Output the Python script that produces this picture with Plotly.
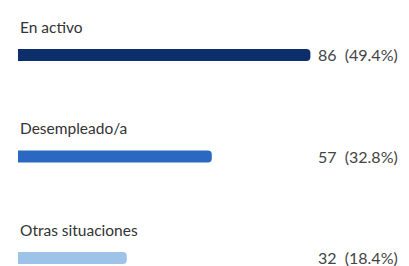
import plotly.graph_objects as go

categories = ["En activo", "Desempleado/a", "Otras situaciones"]
values = [86, 57, 32]
percents = ["49.4%", "32.8%", "18.4%"]
colors = ["#0c2f6c", "#2b68c1", "#9dc3e9"]

ypos = list(range(len(categories)))

fig = go.Figure()
fig.add_trace(go.Bar(
    x=values, y=ypos, orientation="h",
    marker=dict(color=colors, line=dict(width=0), cornerradius=4),
    width=0.12, hoverinfo="skip",
))

font_family = "Lato, 'Noto Sans', sans-serif"
for i, (c, v, p) in enumerate(zip(categories, values, percents)):
    fig.add_annotation(x=0, y=i - 0.28, xref="x", yref="y", text=c,
                       showarrow=False, xanchor="left", yanchor="middle",
                       font=dict(family=font_family, size=15.5, color="#333333"))
    fig.add_annotation(x=306/401, y=i, xref="paper", yref="y",
                       text=f"{v}&nbsp;&nbsp;({p})",
                       showarrow=False, xanchor="left", yanchor="middle",
                       font=dict(family=font_family, size=16, color="#444444"))

fig.update_layout(
    width=401, height=258,
    margin=dict(l=10, r=0, t=0, b=0),
    paper_bgcolor="white", plot_bgcolor="white",
    showlegend=False,
    xaxis=dict(range=[0, 115], visible=False, fixedrange=True),
    yaxis=dict(range=[2.079, -0.463], visible=False, fixedrange=True),
)
fig.write_html("out.html")
